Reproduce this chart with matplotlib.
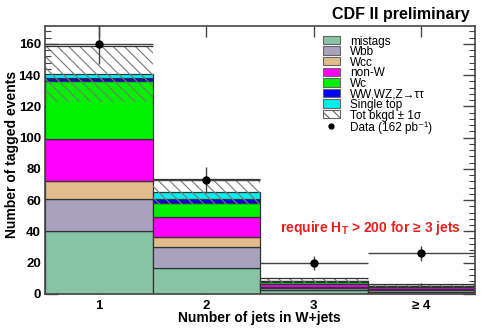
import matplotlib
matplotlib.use("Agg")
import matplotlib.pyplot as plt
import numpy as np
from matplotlib.patches import Rectangle
from matplotlib.lines import Line2D
from matplotlib.ticker import MultipleLocator

plt.rcParams['font.family'] = ['Liberation Sans', 'DejaVu Sans']
plt.rcParams['mathtext.fontset'] = 'custom'
plt.rcParams['mathtext.rm'] = 'Liberation Sans'
plt.rcParams['mathtext.bf'] = 'Liberation Sans:bold'
plt.rcParams['hatch.color'] = '#777777'
plt.rcParams['hatch.linewidth'] = 0.8

# ---- data ----
bins = [1, 2, 3, 4]
bin_labels = ["1", "2", "3", "\u2265 4"]
mistags = [40.0, 16.5, 2.5, 1.5]
wbb = [21.0, 13.5, 1.5, 1.0]
wcc = [11.0, 6.3, 0.5, 0.5]
nonw = [27.0, 12.7, 2.0, 1.5]
wc = [37.0, 9.0, 1.0, 0.5]
diboson = [2.5, 2.8, 0.5, 0.2]
single_top = [2.5, 4.7, 0.5, 0.2]
bkg_err = [18.0, 8.0, 1.5, 1.0]
data = [160, 73, 20, 26]
data_err = [13.0, 8.5, 4.5, 5.0]

names = ["mistags", "Wbb", "Wcc", "non-W", "Wc", "WW,WZ,Z\u2192\u03c4\u03c4", "Single top"]
series = [mistags, wbb, wcc, nonw, wc, diboson, single_top]
colors = ["#86C4A4", "#A9A2BE", "#E2BC8A", "#FF00FF", "#00F000", "#0000FF", "#00F0F0"]
HATCH = '\\\\\\'

W, H = 485, 329
fig = plt.figure(figsize=(W / 100, H / 100), dpi=100)
ax = fig.add_axes([0.0928, 0.1064, 0.8866, 0.8146])

x = np.array(bins, dtype=float)
bottom = np.zeros(len(bins))
for vals, col in zip(series, colors):
    vals = np.array(vals)
    ax.bar(x, vals, width=1.0, bottom=bottom, color=col, edgecolor='#333333',
           linewidth=0.9, zorder=2)
    bottom = bottom + vals

total = bottom
err = np.array(bkg_err)
ax.bar(x, 2 * err, width=1.0, bottom=total - err, facecolor='none',
       edgecolor='#777777', hatch=HATCH, linewidth=0, zorder=3)
ax.hlines(total + err, x - 0.5, x + 0.5, color='#333333', linewidth=0.9, zorder=3)

ax.errorbar(x, data, yerr=data_err, xerr=0.5, fmt='o', color='black',
            ecolor='#444444', elinewidth=1.0, markersize=5, capsize=0, zorder=5)

ax.set_xlim(0.5, 4.5)
ax.set_ylim(0, 171.5)
ax.set_xticks(x)
ax.set_xticklabels(bin_labels, fontsize=9.5, fontweight='bold')
ax.yaxis.set_major_locator(MultipleLocator(20))
ax.yaxis.set_minor_locator(MultipleLocator(4))
for lab in ax.get_yticklabels():
    lab.set_fontweight('bold')
    lab.set_fontsize(9.5)
ax.tick_params(axis='both', which='both', direction='in', top=True, right=True,
               color='#444444')
ax.tick_params(axis='y', which='major', length=9, width=1.0, pad=3)
ax.tick_params(axis='y', which='minor', length=4.5, width=0.8)
ax.tick_params(axis='x', which='major', length=8, width=1.0, pad=4)
ax.tick_params(axis='x', which='minor', bottom=False, top=False)
for sp in ax.spines.values():
    sp.set_color('#444444')
    sp.set_linewidth(1.2)
    sp.set_zorder(6)

# ---- legend (drawn by hand to match the compact ROOT layout) ----
def fx(px):
    return px / W

def fy(py):
    return 1 - py / H

leg_labels = names + ['Tot bkgd \u00b1 1\u03c3', 'Data (162 pb\u207b\u00b9)']
row_y = [40 + 10.6 * i for i in range(len(leg_labels) - 1)] + [126.5]
box_x0, box_w, box_h = 323, 17, 8.5
for i, (lab, yc) in enumerate(zip(leg_labels, row_y)):
    if i < len(colors):
        fig.add_artist(Rectangle((fx(box_x0), fy(yc + box_h / 2)), box_w / W, box_h / H,
                                 transform=fig.transFigure, facecolor=colors[i],
                                 edgecolor='#666666', linewidth=0.8))
    elif i == len(colors):
        fig.add_artist(Rectangle((fx(box_x0), fy(yc + box_h / 2)), box_w / W, box_h / H,
                                 transform=fig.transFigure, facecolor='white',
                                 edgecolor='#666666', hatch=HATCH, linewidth=0.8))
    else:
        fig.add_artist(Line2D([fx(box_x0 + box_w / 2)], [fy(yc)], marker='o',
                              color='black', markersize=3.5, transform=fig.transFigure))
    fig.text(fx(350), fy(yc), lab, ha='left', va='center_baseline', fontsize=8.5)

fig.text(0.969, 0.955, 'CDF II preliminary', ha='right', va='center',
         fontsize=11.5, fontweight='bold')
fig.text(0.535, 0.033, 'Number of jets in W+jets', ha='center', va='center',
         fontsize=10, fontweight='bold')
fig.text(0.025, 0.277, 'Number of tagged events', ha='center', va='bottom',
         rotation=90, fontsize=10, fontweight='bold')
ax.text(0.547, 0.246, 'require H$_\\mathbf{T}$ > 200 for \u2265 3 jets',
        transform=ax.transAxes, ha='left', va='center', color='#E82020',
        fontsize=10, fontweight='bold')

fig.savefig('out.png', dpi=100)
